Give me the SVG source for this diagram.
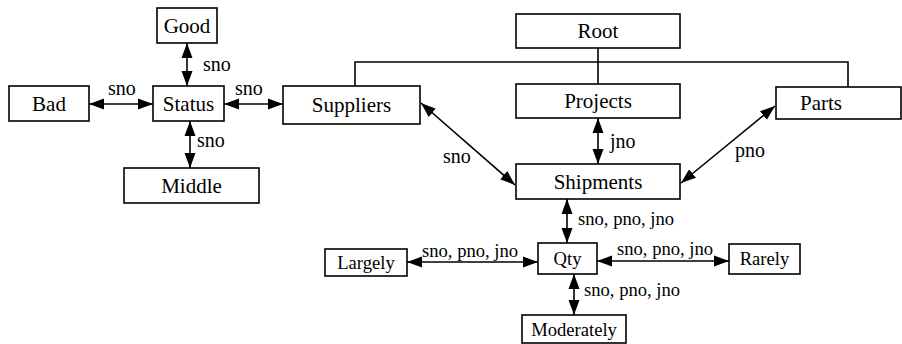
<svg xmlns="http://www.w3.org/2000/svg" width="902" height="344" viewBox="0 0 902 344">
<style>
rect{fill:#fff;stroke:#000;stroke-width:1.6}
text{font-family:'Liberation Serif','Times New Roman','DejaVu Serif',serif;fill:#000}
.n{font-size:21px;text-anchor:middle}
.s{font-size:18.6px;text-anchor:middle}
.l{font-size:20px}
.ls{font-size:18.6px}
.e{stroke:#000;stroke-width:1.6;fill:none}
.a{marker-start:url(#ah);marker-end:url(#ah)}
</style>
<defs>
<marker id="ah" markerUnits="userSpaceOnUse" markerWidth="16" markerHeight="12" refX="15" refY="6" orient="auto-start-reverse"><path d="M0,0.5 L15,6 L0,11.5 z" fill="#000"/></marker>
</defs>
<g id="connectors">
<polyline class="e" points="355,86 355,62 848,62 848,87"/>
<line class="e" x1="598" y1="48" x2="598" y2="84"/>
<line class="e a" x1="187" y1="43" x2="187" y2="86"/>
<line class="e a" x1="190" y1="121" x2="190" y2="168"/>
<line class="e a" x1="89" y1="104" x2="153" y2="104"/>
<line class="e a" x1="224" y1="104" x2="283" y2="104"/>
<line class="e a" x1="421" y1="103" x2="515" y2="185"/>
<line class="e a" x1="598" y1="118" x2="598" y2="164"/>
<line class="e a" x1="775" y1="106" x2="681" y2="183"/>
<line class="e a" x1="567" y1="199" x2="567" y2="243"/>
<line class="e a" x1="407" y1="262" x2="538" y2="262"/>
<line class="e a" x1="597" y1="261" x2="729" y2="261"/>
<line class="e a" x1="574" y1="274" x2="574" y2="315"/>
<text class="l" font-family="Liberation Serif, serif" x="203" y="71">sno</text>
<text class="l" font-family="Liberation Serif, serif" x="197" y="147">sno</text>
<text class="l" font-family="Liberation Serif, serif" x="108" y="95">sno</text>
<text class="l" font-family="Liberation Serif, serif" x="235" y="95">sno</text>
<text class="l" font-family="Liberation Serif, serif" x="443" y="163">sno</text>
<text class="l" font-family="Liberation Serif, serif" x="610" y="148">jno</text>
<text class="l" font-family="Liberation Serif, serif" x="735" y="157">pno</text>
<text class="ls" font-family="Liberation Serif, serif" x="578" y="225">sno, pno, jno</text>
<text class="ls" font-family="Liberation Serif, serif" x="422" y="257">sno, pno, jno</text>
<text class="ls" font-family="Liberation Serif, serif" x="617" y="255">sno, pno, jno</text>
<text class="ls" font-family="Liberation Serif, serif" x="584" y="296">sno, pno, jno</text>
</g>
<g id="good"><rect x="157" y="8" width="60" height="35"/><text class="n" x="187" y="33">Good</text></g>
<g id="bad"><rect x="9" y="86" width="80" height="35"/><text class="n" x="49" y="111">Bad</text></g>
<g id="status"><rect x="153" y="86" width="71" height="35"/><text class="n" x="188.5" y="111">Status</text></g>
<g id="middle"><rect x="124" y="168" width="135" height="35"/><text class="n" x="191.5" y="193">Middle</text></g>
<g id="suppliers"><rect x="283" y="86" width="137" height="38"/><text class="n" x="351.5" y="112">Suppliers</text></g>
<g id="root"><rect x="516" y="14" width="164" height="34"/><text class="n" x="598" y="38">Root</text></g>
<g id="projects"><rect x="516" y="84" width="164" height="34"/><text class="n" x="598" y="108">Projects</text></g>
<g id="parts"><rect x="776" y="87" width="125" height="32"/><text class="n" x="821" y="110">Parts</text></g>
<g id="shipments"><rect x="516" y="164" width="164" height="35"/><text class="n" x="598" y="189">Shipments</text></g>
<g id="qty"><rect x="538" y="243" width="59" height="31"/><text class="s" x="567.5" y="265">Qty</text></g>
<g id="largely"><rect x="325" y="249" width="82" height="27"/><text class="s" x="366" y="269">Largely</text></g>
<g id="rarely"><rect x="729" y="244" width="71" height="30"/><text class="s" x="764.5" y="265">Rarely</text></g>
<g id="moderately"><rect x="522" y="315" width="104" height="28"/><text class="s" x="574" y="336">Moderately</text></g>
</svg>
